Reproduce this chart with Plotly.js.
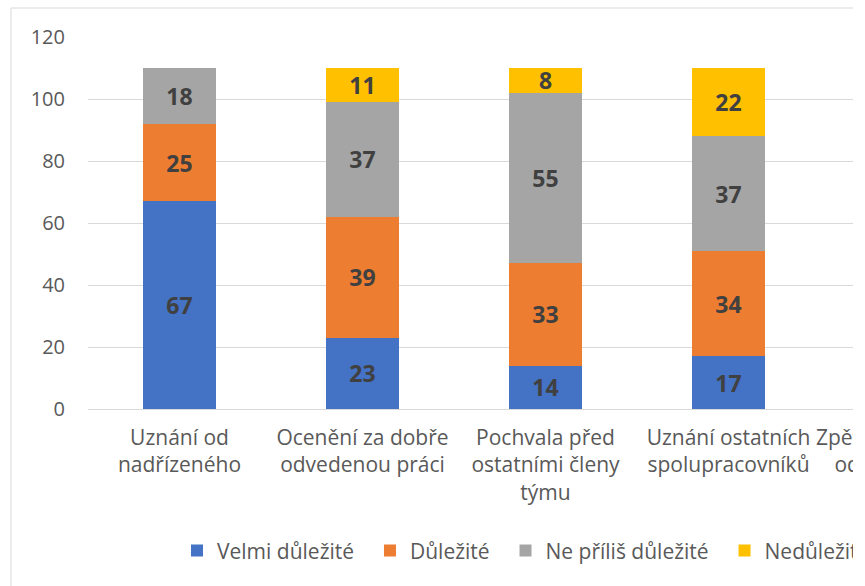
<!DOCTYPE html>
<html>
<head>
<meta charset="utf-8">
<script src="https://cdn.plot.ly/plotly-3.0.1.min.js"></script>
<style>
html,body{margin:0;padding:0;background:#fff;overflow:hidden;}
#wrap{width:853px;height:586px;overflow:hidden;position:relative;}
#chart{width:1052px;height:586px;}
</style>
</head>
<body>
<div id="wrap"><div id="chart"></div></div>
<script>
const categories = [
  "Uznání od<br>nadřízeného",
  "Ocenění za dobře<br>odvedenou práci",
  "Pochvala před<br>ostatními členy<br>týmu",
  "Uznání ostatních<br>spolupracovníků",
  "Zpětná vazba ústně<br>od nadřízeného"
];
const seriesNames = ["Velmi důležité", "Důležité", "Ne příliš důležité", "Nedůležité"];
const velmiDulezite = [67, 23, 14, 17, null];
const dulezite = [25, 39, 33, 34, null];
const nePrilisDulezite = [18, 37, 55, 37, null];
const nedulezite = [null, 11, 8, 22, null];
const colors = ["#4472C4", "#ED7D31", "#A5A5A5", "#FFC000"];
const yTicks = [0, 20, 40, 60, 80, 100, 120];

const values = [velmiDulezite, dulezite, nePrilisDulezite, nedulezite];
const FONT = "'Open Sans', 'DejaVu Sans', sans-serif";

const traces = values.map((v, i) => ({
  type: "bar",
  name: seriesNames[i] + (i < seriesNames.length - 1 ? "\u00a0\u00a0" : ""),
  x: categories,
  y: v,
  marker: {color: colors[i], line: {width: 0}},
  text: v.map(d => d == null ? "" : String(d)),
  texttemplate: "<b>%{text}</b>",
  textposition: "inside",
  insidetextanchor: "middle",
  textangle: 0,
  constraintext: "none",
  textfont: {family: FONT, size: 23, color: "#404040"},
  hoverinfo: "skip"
}));

const W = 1052;
const layout = {
  width: W,
  height: 586,
  barmode: "stack",
  bargap: 0.6,
  paper_bgcolor: "#ffffff",
  plot_bgcolor: "#ffffff",
  margin: {l: 88, r: W - 88 - 915, t: 37, b: 177},
  font: {family: FONT, color: "#595959"},
  xaxis: {
    type: "category",
    tickangle: 0,
    tickfont: {family: FONT, size: 21, color: "#595959"},
    showgrid: false,
    showline: false,
    ticks: "",
    ticklabelstandoff: 14
  },
  yaxis: {
    range: [0, 120],
    tickvals: yTicks,
    ticktext: yTicks.map(String),
    tickfont: {family: FONT, size: 20, color: "#595959"},
    showgrid: true,
    gridcolor: "#D9D9D9",
    gridwidth: 1,
    zeroline: true,
    zerolinecolor: "#D9D9D9",
    zerolinewidth: 1,
    showline: false,
    ticks: "",
    ticklabelstandoff: 22
  },
  showlegend: true,
  legend: {
    orientation: "h",
    xref: "container",
    yref: "container",
    x: 0.5,
    xanchor: "center",
    y: 0.06,
    yanchor: "middle",
    font: {family: FONT, size: 21, color: "#595959"},
    itemwidth: 30,
    traceorder: "normal",
    bgcolor: "rgba(0,0,0,0)"
  },
  shapes: [{
    type: "rect",
    xref: "paper", yref: "paper",
    x0: -77/915, x1: 1.2,
    y0: -0.7, y1: (409-8)/372,
    line: {color: "#D9D9D9", width: 1},
    fillcolor: "rgba(0,0,0,0)",
    layer: "below"
  }]
};

Plotly.newPlot("chart", traces, layout, {displayModeBar: false, staticPlot: true});
</script>
</body>
</html>
